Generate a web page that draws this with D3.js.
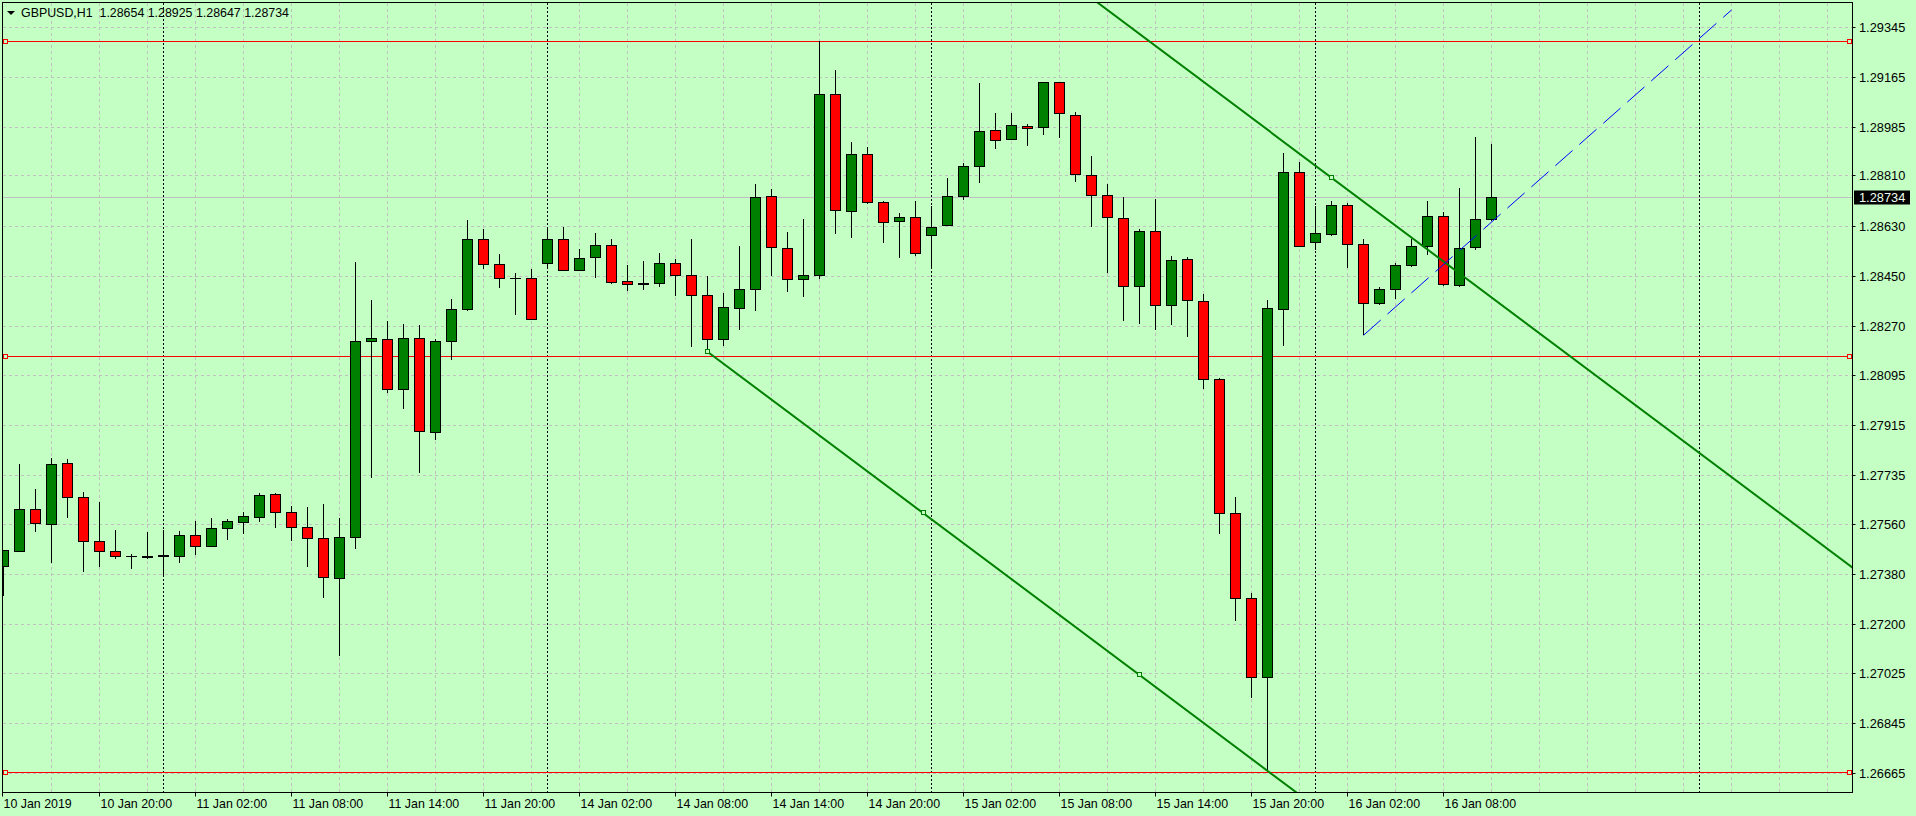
<!DOCTYPE html>
<html><head><meta charset="utf-8">
<script src="https://cdn.jsdelivr.net/npm/d3@7"></script>
<style>html,body{margin:0;padding:0;background:#c4ffc4;overflow:hidden}svg{display:block}</style>
</head><body><svg id="c" width="1916" height="816"></svg>
<script>
// ---------- DATA ----------
const symbolTitle = "GBPUSD,H1";
const headerOHLC = ["1.28654", "1.28925", "1.28647", "1.28734"];

const openP = [1.27405,1.27461,1.27613,1.27561,1.27778,1.27656,1.27498,1.27462,1.27444,1.27444,
1.27444,1.27446,1.27520,1.27482,1.27545,1.27566,1.27584,1.27667,1.27602,1.27548,
1.27509,1.27365,1.27512,1.28216,1.28224,1.28044,1.28227,1.27890,1.28216,1.28331,
1.28583,1.28493,1.28443,1.28443,1.28496,1.28583,1.28471,1.28518,1.28561,1.28432,
1.28424,1.28424,1.28496,1.28453,1.28381,1.28224,1.28335,1.28403,1.28737,1.28550,
1.28439,1.28452,1.29103,1.28682,1.28888,1.28715,1.28647,1.28662,1.28597,1.28633,
1.28737,1.28845,1.28974,1.28942,1.28988,1.28981,1.29144,1.29028,1.28812,1.28741,
1.28658,1.28414,1.28611,1.28346,1.28511,1.28360,1.28080,1.27599,1.27293,1.27010,
1.28331,1.28823,1.28572,1.28601,1.28705,1.28565,1.28353,1.28403,1.28489,1.28557,
1.28665,1.28416,1.28554,1.28654];
const highP = [1.27466,1.27776,1.27686,1.27797,1.27794,1.27675,1.27639,1.27539,1.27451,1.27532,
1.27538,1.27535,1.27571,1.27582,1.27578,1.27602,1.27670,1.27670,1.27624,1.27620,
1.27631,1.27581,1.28501,1.28365,1.28289,1.28278,1.28275,1.28224,1.28368,1.28652,
1.28620,1.28530,1.28461,1.28476,1.28622,1.28627,1.28548,1.28605,1.28583,1.28490,
1.28505,1.28533,1.28511,1.28583,1.28450,1.28389,1.28559,1.28781,1.28763,1.28608,
1.28654,1.29294,1.29191,1.28932,1.28914,1.28719,1.28677,1.28720,1.28702,1.28804,
1.28856,1.29144,1.29036,1.29036,1.28996,1.29148,1.29146,1.29039,1.28882,1.28781,
1.28733,1.28619,1.28726,1.28522,1.28518,1.28386,1.28083,1.27657,1.27311,1.28364,
1.28891,1.28860,1.28702,1.28719,1.28712,1.28583,1.28410,1.28496,1.28583,1.28720,
1.28681,1.28766,1.28950,1.28925];
const lowP = [1.27303,1.27458,1.27532,1.27420,1.27582,1.27388,1.27406,1.27436,1.27400,1.27434,
1.27375,1.27421,1.27450,1.27480,1.27504,1.27525,1.27568,1.27547,1.27500,1.27407,
1.27296,1.27087,1.27472,1.27727,1.28032,1.27974,1.27745,1.27862,1.28149,1.28326,
1.28475,1.28409,1.28312,1.28293,1.28477,1.28469,1.28469,1.28445,1.28421,1.28398,
1.28400,1.28412,1.28380,1.28195,1.28179,1.28201,1.28258,1.28326,1.28452,1.28394,
1.28377,1.28441,1.28603,1.28588,1.28710,1.28570,1.28517,1.28524,1.28477,1.28631,
1.28725,1.28786,1.28908,1.28940,1.28919,1.28958,1.28947,1.28789,1.28628,1.28462,
1.28291,1.28280,1.28258,1.28276,1.28233,1.28044,1.27525,1.27213,1.26936,1.26674,
1.28201,1.28555,1.28544,1.28596,1.28478,1.28238,1.28346,1.28367,1.28482,1.28525,
1.28414,1.28412,1.28543,1.28647];
const closeP = [1.27464,1.27613,1.27561,1.27775,1.27655,1.27497,1.27461,1.27444,1.27444,1.27441,
1.27447,1.27520,1.27482,1.27545,1.27570,1.27588,1.27663,1.27602,1.27548,1.27509,
1.27369,1.27512,1.28216,1.28227,1.28044,1.28227,1.27892,1.28216,1.28331,1.28583,
1.28493,1.28443,1.28442,1.28295,1.28583,1.28471,1.28514,1.28561,1.28428,1.28421,
1.28422,1.28496,1.28452,1.28381,1.28224,1.28338,1.28403,1.28733,1.28553,1.28439,
1.28453,1.29103,1.28687,1.28888,1.28715,1.28644,1.28662,1.28532,1.28626,1.28737,
1.28845,1.28970,1.28938,1.28992,1.28981,1.29144,1.29031,1.28816,1.28741,1.28662,
1.28414,1.28611,1.28346,1.28507,1.28364,1.28080,1.27599,1.27293,1.27010,1.28335,
1.28823,1.28557,1.28604,1.28705,1.28565,1.28353,1.28403,1.28489,1.28557,1.28665,
1.28421,1.28550,1.28654,1.28734];

const yTicks = [1.29345,1.29165,1.28985,1.28810,1.28630,1.28450,1.28270,1.28095,
                1.27915,1.27735,1.27560,1.27380,1.27200,1.27025,1.26845,1.26665];
const xTickBars = [0,6,12,18,24,30,36,42,48,54,60,66,72,78,84,90];
const xTickLabels = ["10 Jan 2019","10 Jan 20:00","11 Jan 02:00","11 Jan 08:00","11 Jan 14:00",
  "11 Jan 20:00","14 Jan 02:00","14 Jan 08:00","14 Jan 14:00","14 Jan 20:00","15 Jan 02:00",
  "15 Jan 08:00","15 Jan 14:00","15 Jan 20:00","16 Jan 02:00","16 Jan 08:00"];
const separatorBars = [10,34,58,82,106];
const levelLines = [1.29294, 1.28162, 1.26668];
const bidPrice = 1.28734;
const lowerTrend = [[44,1.28179],[71,1.27018]];
const upperTrend = [[83,1.28804],[110,1.27643]];
const blueRay = [[85,1.28238],[108,1.29406]];

// ---------- LAYOUT ----------
const W = 1916, H = 816;
const L = 2.5, R = 1852.5, T = 2.5, B = 792.5;
const BG = "#c4ffc4";
const svg = d3.select("#c");
const x = d3.scaleLinear().domain([0, 93]).range([3.5, 3.5 + 16*93]);
const y = d3.scaleLinear().domain([1.26665, 1.29345]).range([773.3, 27]);
const crisp = v => Math.round(v - 0.5) + 0.5;
const FONT = "'Liberation Sans', Arial, sans-serif";

svg.append("rect").attr("width", W).attr("height", H).attr("fill", BG);
svg.append("defs").append("clipPath").attr("id","plot")
  .append("rect").attr("x", L).attr("y", T).attr("width", R-L).attr("height", B-T);

const plot = svg.append("g").attr("clip-path","url(#plot)");

// grid
const gridColor = "#c0c0c0";
const gridG = plot.append("g").attr("shape-rendering","crispEdges");
gridG.selectAll(".hg").data(yTicks).join("line")
  .attr("x1", L).attr("x2", R)
  .attr("y1", d => crisp(y(d))).attr("y2", d => crisp(y(d)))
  .attr("stroke", gridColor).attr("stroke-dasharray","3,3");
const vGridBars = d3.range(3, 116, 3);
gridG.selectAll(".vg").data(vGridBars).join("line")
  .attr("x1", d => x(d)).attr("x2", d => x(d))
  .attr("y1", T).attr("y2", B)
  .attr("stroke", gridColor).attr("stroke-dasharray","3,3");

// period separators
plot.append("g").attr("shape-rendering","crispEdges").selectAll("line").data(separatorBars).join("line")
  .attr("x1", d => x(d)).attr("x2", d => x(d)).attr("y1", T).attr("y2", B)
  .attr("stroke", "#000").attr("stroke-dasharray","2,2");

// bid line
plot.append("line").attr("x1", L).attr("x2", R)
  .attr("y1", crisp(y(bidPrice))).attr("y2", crisp(y(bidPrice)))
  .attr("stroke", "#c0c0c0").attr("shape-rendering","crispEdges");

// horizontal level lines
const lv = plot.append("g").attr("shape-rendering","crispEdges");
levelLines.forEach(p => {
  const yy = crisp(y(p));
  lv.append("line").attr("x1", L).attr("x2", R).attr("y1", yy).attr("y2", yy).attr("stroke", "#ff0000");
  [5.5, 1849.5].forEach(cx => lv.append("rect").attr("x", cx-2).attr("y", yy-2).attr("width", 4).attr("height", 4)
     .attr("fill", BG).attr("stroke", "#ff0000"));
});

// candles
const bars = openP.map((o,i) => ({i, o, h: highP[i], l: lowP[i], c: closeP[i]}));
const cg = plot.append("g").attr("shape-rendering","crispEdges");
cg.selectAll(".wick").data(bars).join("line")
  .attr("x1", d => x(d.i)).attr("x2", d => x(d.i))
  .attr("y1", d => Math.round(y(d.h))).attr("y2", d => Math.round(y(d.l)))
  .attr("stroke", "#000").attr("stroke-width", 1);
cg.selectAll(".body").data(bars).join("rect")
  .attr("x", d => x(d.i) - 5).attr("width", 10)
  .attr("y", d => crisp(y(Math.max(d.o, d.c))))
  .attr("height", d => Math.max(0.01, Math.round(Math.abs(y(d.o) - y(d.c)))))
  .attr("fill", d => d.c >= d.o ? "#008000" : "#ff0000")
  .attr("stroke", "#000").attr("stroke-width", 1);

// trend lines
function lineThrough(pts, fromBar, toBar) {
  const [[b1,p1],[b2,p2]] = pts;
  const s = (p2 - p1) / (b2 - b1);
  return [[fromBar, p1 + s*(fromBar-b1)], [toBar, p1 + s*(toBar-b1)]];
}
const tg = plot.append("g");
const lowSeg = lineThrough(lowerTrend, 44, 140);
const upSeg = lineThrough(upperTrend, 55, 140);
[lowSeg, upSeg].forEach(seg => {
  tg.append("line").attr("x1", x(seg[0][0])).attr("y1", y(seg[0][1]))
    .attr("x2", x(seg[1][0])).attr("y2", y(seg[1][1]))
    .attr("stroke", "#008000").attr("stroke-width", 2);
});
const sq = [[lowerTrend[0][0], lowerTrend[0][1]],
            [(lowerTrend[0][0]+lowerTrend[1][0])/2, (lowerTrend[0][1]+lowerTrend[1][1])/2],
            [lowerTrend[1][0], lowerTrend[1][1]],
            [upperTrend[0][0], upperTrend[0][1]]];
tg.selectAll("rect").data(sq).join("rect")
  .attr("x", d => Math.round(x(d[0])) - 2.5).attr("y", d => Math.round(y(d[1])) - 2.5)
  .attr("width", 4).attr("height", 4).attr("fill", BG).attr("stroke", "#008000")
  .attr("shape-rendering","crispEdges");

// blue dashed line
plot.append("line").attr("x1", x(blueRay[0][0])).attr("y1", y(blueRay[0][1]))
  .attr("x2", x(blueRay[1][0])).attr("y2", y(blueRay[1][1]))
  .attr("stroke", "#0000ff").attr("stroke-width", 1).attr("stroke-dasharray", "23,9");

// frame
svg.append("rect").attr("x", L).attr("y", T).attr("width", R-L).attr("height", B-T)
  .attr("fill", "none").attr("stroke", "#000").attr("shape-rendering","crispEdges");

// y axis labels
const ya = svg.append("g");
yTicks.forEach(t => {
  const yy = crisp(y(t));
  ya.append("line").attr("x1", R).attr("x2", R+3).attr("y1", yy).attr("y2", yy).attr("stroke","#000");
  ya.append("text").attr("x", 1859).attr("y", yy).attr("dy","0.36em")
    .attr("font-family", FONT).attr("font-size", "12.8px").attr("fill","#000").text(t.toFixed(5));
});
// bid price label
const by = crisp(y(bidPrice));
ya.append("rect").attr("x", 1854).attr("y", by - 7).attr("width", 56).attr("height", 14).attr("fill","#000");
ya.append("text").attr("x", 1859).attr("y", by).attr("dy","0.36em")
  .attr("font-family", FONT).attr("font-size","12.8px").attr("fill","#f0fff0").text(bidPrice.toFixed(5));

// x axis labels
const xa = svg.append("g");
xTickBars.forEach((b, k) => {
  const xx = crisp(x(b)) - (b === 0 ? 1 : 0);
  xa.append("line").attr("x1", xx).attr("x2", xx).attr("y1", B).attr("y2", B+4).attr("stroke","#000");
  xa.append("text").attr("x", xx + 1).attr("y", 808)
    .attr("font-family", FONT).attr("font-size","12.4px").attr("fill","#000").text(xTickLabels[k]);
});

// title
svg.append("path").attr("d","M7,11 L15,11 L11,15 Z").attr("fill","#000");
svg.append("text").attr("x", 21).attr("y", 17)
  .attr("font-family", FONT).attr("font-size","12.4px").attr("fill","#000")
  .attr("xml:space","preserve")
  .text(symbolTitle + "  " + headerOHLC.join(" "));
</script>
</body></html>
